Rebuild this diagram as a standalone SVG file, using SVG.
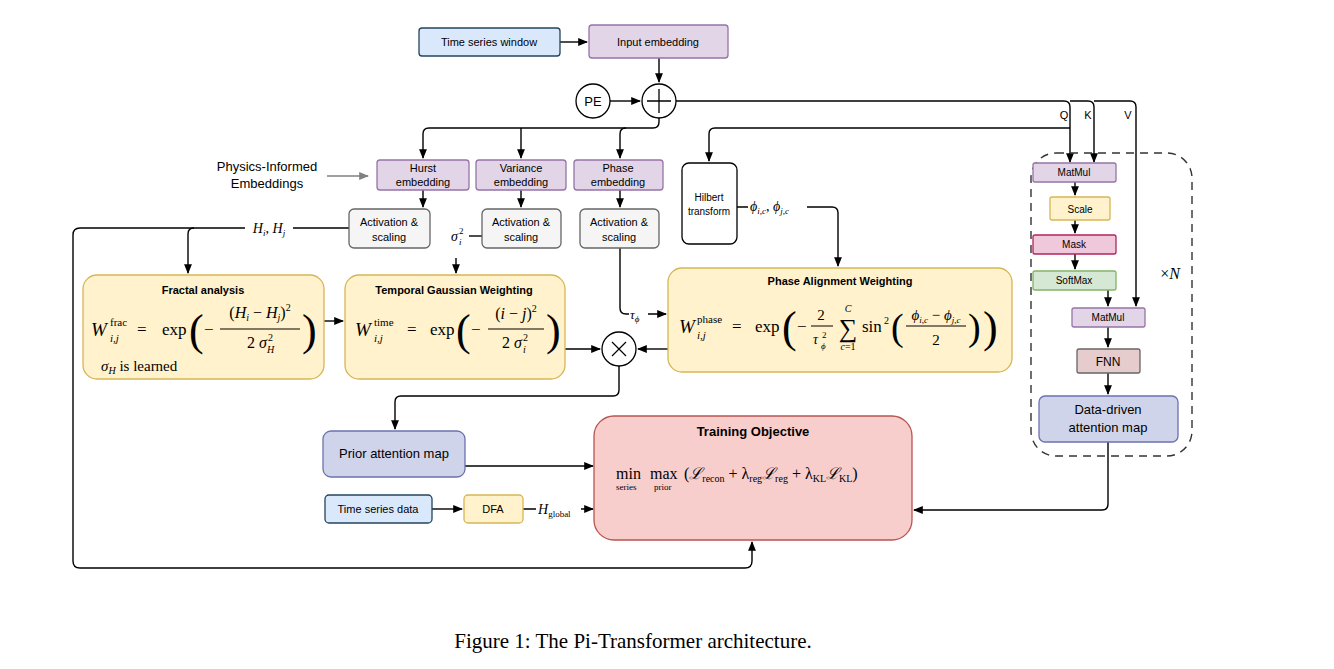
<svg xmlns="http://www.w3.org/2000/svg" width="1334" height="669" viewBox="0 0 1334 669">
<style>
.s{font-family:"Liberation Sans",Arial,sans-serif;fill:#000}
.m{font-family:"Liberation Serif","Times New Roman",serif;fill:#000}
.i{font-style:italic}
.c{stroke:#000;stroke-width:1.4;fill:none}
.b{font-weight:bold}
.p{fill:#e1d5e7;stroke:#9673a6;stroke-width:1.3}
.g{fill:#f5f5f5;stroke:#666;stroke-width:1.3}
.y{fill:#fff2cc;stroke:#d6b656;stroke-width:1.3}
.bl{fill:#dae8fc;stroke:#23445d;stroke-width:1.3}
.pv{fill:#d0d4ea;stroke:#6c72b0;stroke-width:1.3}
.pr{font-family:"Liberation Serif","Times New Roman",serif;font-size:44px;font-weight:100}
</style>
<defs><marker id="a" viewBox="0 0 10 10" refX="9" refY="5" markerWidth="7" markerHeight="7" orient="auto"><path d="M0,1 L10,5 L0,9 z" fill="#000"/></marker>
<marker id="ag" viewBox="0 0 10 10" refX="9" refY="5" markerWidth="7" markerHeight="7" orient="auto"><path d="M0,1 L10,5 L0,9 z" fill="#808080"/></marker></defs>
<rect width="1334" height="669" fill="#fff"/>

<g id="connectors">
<path class="c" d="M560,42 H587" marker-end="url(#a)"/>
<path class="c" d="M659,58 V82" marker-end="url(#a)"/>
<path class="c" d="M610,101 H640" marker-end="url(#a)"/>
<path class="c" d="M676,101 H1064 Q1070,101 1070,107 V162" marker-end="url(#a)"/>
<path class="c" d="M1070,101 H1088 Q1094,101 1094,107 V162" marker-end="url(#a)"/>
<path class="c" d="M1094,101 H1130 Q1136,101 1136,107 V306" marker-end="url(#a)"/>
<path class="c" d="M659,118 V122 Q659,128 653,128 H429 Q423,128 423,134 V158" marker-end="url(#a)"/>
<path class="c" d="M521,128 V158" marker-end="url(#a)"/>
<path class="c" d="M626,128 Q620,128 620,134 V158" marker-end="url(#a)"/>
<path class="c" d="M1070,128 H715 Q709,128 709,134 V161" marker-end="url(#a)"/>
<path d="M327,176 H368" stroke="#808080" stroke-width="1.4" fill="none" marker-end="url(#ag)"/>
<path class="c" d="M423,190 V207" marker-end="url(#a)"/>
<path class="c" d="M521,190 V207" marker-end="url(#a)"/>
<path class="c" d="M620,190 V207" marker-end="url(#a)"/>
<path class="c" d="M349,228 H293 M245,228 H80 Q73,228 73,235 V561 Q73,568 80,568 H745 Q752,568 752,561 V542" marker-end="url(#a)"/>
<path class="c" d="M194,228 Q188,228 188,234 V273" marker-end="url(#a)"/>
<path class="c" d="M469,236 H482"/>
<path class="c" d="M456,258 V273" marker-end="url(#a)"/>
<path class="c" d="M620,248 V308 Q620,314 626,314 H629 M648,314 H666" marker-end="url(#a)"/>
<path class="c" d="M737,207 H748 M807,207 H832 Q838,207 838,213 V266" marker-end="url(#a)"/>
<path class="c" d="M324,321 H343" marker-end="url(#a)"/>
<path class="c" d="M565,349 H600" marker-end="url(#a)"/>
<path class="c" d="M668,349 H638" marker-end="url(#a)"/>
<path class="c" d="M619,366 V390 Q619,396 613,396 H401 Q395,396 395,402 V429" marker-end="url(#a)"/>
<path class="c" d="M465,466 H593" marker-end="url(#a)"/>
<path class="c" d="M432,509 H462" marker-end="url(#a)"/>
<path class="c" d="M523,509 H536 M581,509 H593" marker-end="url(#a)"/>
<path class="c" d="M1108,442 V504 Q1108,510 1102,510 H914" marker-end="url(#a)"/>
<path class="c" d="M1075,182 V195" marker-end="url(#a)"/>
<path class="c" d="M1075,220 V233" marker-end="url(#a)"/>
<path class="c" d="M1075,254 V269" marker-end="url(#a)"/>
<path class="c" d="M1108,290 V306" marker-end="url(#a)"/>
<path class="c" d="M1108,327 V347" marker-end="url(#a)"/>
<path class="c" d="M1108,373 V394" marker-end="url(#a)"/>
</g>

<rect x="1031" y="153" width="161" height="303" rx="25" fill="none" stroke="#333" stroke-width="1.4" stroke-dasharray="8,6"/>
<text x="1170" y="279" class="m" font-size="16" text-anchor="middle">×<tspan class="i">N</tspan></text>
<text x="1064" y="119" class="s" font-size="11" text-anchor="middle">Q</text>
<text x="1088" y="119" class="s" font-size="11" text-anchor="middle">K</text>
<text x="1128" y="119" class="s" font-size="11" text-anchor="middle">V</text>

<g id="tsw"><rect x="419" y="28" width="141" height="28" rx="3" class="bl"/><text x="489" y="46" class="s" font-size="11" text-anchor="middle">Time series window</text></g>
<g id="ie"><rect x="589" y="25" width="139" height="33" rx="3" class="p"/><text x="658" y="46" class="s" font-size="11" text-anchor="middle">Input embedding</text></g>
<g id="pe"><circle cx="593" cy="101" r="17" fill="#fff" stroke="#000" stroke-width="1.3"/><text x="593" y="106" class="s" font-size="13" text-anchor="middle">PE</text></g>
<g id="plus"><circle cx="659" cy="101" r="17" fill="#fff" stroke="#000" stroke-width="1.3"/><path d="M647,101 H671 M659,89 V113" stroke="#000" stroke-width="1.3"/></g>

<text x="267" y="171" class="s" font-size="13" text-anchor="middle">Physics-Informed</text>
<text x="267" y="188" class="s" font-size="13" text-anchor="middle">Embeddings</text>

<g id="hurst"><rect x="377" y="160" width="92" height="30" rx="3" class="p"/><text x="423" y="172" class="s" font-size="11" text-anchor="middle">Hurst</text><text x="423" y="186" class="s" font-size="11" text-anchor="middle">embedding</text></g>
<g id="var"><rect x="476" y="160" width="90" height="30" rx="3" class="p"/><text x="521" y="172" class="s" font-size="11" text-anchor="middle">Variance</text><text x="521" y="186" class="s" font-size="11" text-anchor="middle">embedding</text></g>
<g id="phase"><rect x="574" y="160" width="89" height="30" rx="3" class="p"/><text x="618" y="172" class="s" font-size="11" text-anchor="middle">Phase</text><text x="618" y="186" class="s" font-size="11" text-anchor="middle">embedding</text></g>

<g id="act1"><rect x="349" y="209" width="81" height="39" rx="5" class="g"/><text x="389" y="226" class="s" font-size="11" text-anchor="middle">Activation &amp;</text><text x="389" y="241" class="s" font-size="11" text-anchor="middle">scaling</text></g>
<g id="act2"><rect x="482" y="209" width="79" height="39" rx="5" class="g"/><text x="521" y="226" class="s" font-size="11" text-anchor="middle">Activation &amp;</text><text x="521" y="241" class="s" font-size="11" text-anchor="middle">scaling</text></g>
<g id="act3"><rect x="580" y="209" width="79" height="39" rx="5" class="g"/><text x="619" y="226" class="s" font-size="11" text-anchor="middle">Activation &amp;</text><text x="619" y="241" class="s" font-size="11" text-anchor="middle">scaling</text></g>

<text x="269" y="233" class="m i" font-size="14" text-anchor="middle">H<tspan font-size="9" dy="3">i</tspan><tspan dy="-3" font-style="normal">, </tspan>H<tspan font-size="9" dy="3">j</tspan></text>
<text x="451" y="241" class="m i" font-size="14">σ</text><text x="459" y="234" class="m" font-size="9">2</text><text x="459" y="245" class="m i" font-size="9">i</text>
<text x="630" y="319" class="m i" font-size="13">τ<tspan font-size="9" dy="3">ϕ</tspan></text>
<text x="750" y="211" class="m i" font-size="14">ϕ<tspan font-size="9" dy="3">i,c</tspan><tspan dy="-3" font-style="normal">, </tspan>ϕ<tspan font-size="9" dy="3">j,c</tspan></text>

<g id="hilbert"><rect x="682" y="163" width="55" height="81" rx="7" fill="#fff" stroke="#000" stroke-width="1.3"/><text x="709" y="201" class="s" font-size="10" text-anchor="middle">Hilbert</text><text x="709" y="215" class="s" font-size="10" text-anchor="middle">transform</text></g>

<g id="fractal"><rect x="83" y="275" width="241" height="104" rx="14" class="y"/>
<text x="203" y="294" class="s b" font-size="11" text-anchor="middle">Fractal analysis</text>
<text x="91" y="336" class="m i" font-size="19">W</text>
<text x="110" y="326" class="m" font-size="11">frac</text>
<text x="110" y="342" class="m i" font-size="11">i,j</text>
<text x="137" y="335" class="m" font-size="17">=</text>
<text x="162" y="335" class="m" font-size="17">exp</text>
<text x="189" y="345" class="pr">(</text>
<text x="204" y="335" class="m" font-size="17">−</text>
<text x="260" y="318" class="m" font-size="16" text-anchor="middle">(<tspan class="i">H</tspan><tspan font-size="10" dy="3" class="i">i</tspan><tspan dy="-3"> − </tspan><tspan class="i">H</tspan><tspan font-size="10" dy="3" class="i">j</tspan><tspan dy="-3">)</tspan><tspan font-size="10" dy="-7">2</tspan></text>
<path d="M220,329 H300" stroke="#000" stroke-width="1"/>
<text x="247" y="348" class="m" font-size="16">2 <tspan class="i">σ</tspan></text><text x="268" y="341" class="m" font-size="10">2</text><text x="267" y="353" class="m i" font-size="10">H</text>
<text x="302" y="345" class="pr">)</text>
<text x="101" y="371" class="m" font-size="15"><tspan class="i">σ</tspan><tspan font-size="10" dy="3" class="i">H</tspan><tspan dy="-3"> is learned</tspan></text>
</g>

<g id="temporal"><rect x="345" y="275" width="220" height="104" rx="14" class="y"/>
<text x="454" y="294" class="s b" font-size="11" text-anchor="middle">Temporal Gaussian Weighting</text>
<text x="355" y="336" class="m i" font-size="19">W</text>
<text x="374" y="326" class="m" font-size="11">time</text>
<text x="374" y="342" class="m i" font-size="11">i,j</text>
<text x="407" y="335" class="m" font-size="17">=</text>
<text x="430" y="335" class="m" font-size="17">exp</text>
<text x="456" y="345" class="pr">(</text>
<text x="471" y="335" class="m" font-size="17">−</text>
<text x="516" y="319" class="m" font-size="16" text-anchor="middle">(<tspan class="i">i</tspan> − <tspan class="i">j</tspan>)<tspan font-size="10" dy="-7">2</tspan></text>
<path d="M488,329 H544" stroke="#000" stroke-width="1"/>
<text x="502" y="348" class="m" font-size="16">2 <tspan class="i">σ</tspan></text><text x="523" y="341" class="m" font-size="10">2</text><text x="523" y="353" class="m i" font-size="10">i</text>
<text x="546" y="345" class="pr">)</text>
</g>

<g id="phasealign"><rect x="668" y="268" width="344" height="104" rx="14" class="y"/>
<text x="840" y="285" class="s b" font-size="11" text-anchor="middle">Phase Alignment Weighting</text>
<text x="679" y="333" class="m i" font-size="19">W</text>
<text x="697" y="323" class="m" font-size="11">phase</text>
<text x="697" y="339" class="m i" font-size="11">i,j</text>
<text x="732" y="332" class="m" font-size="17">=</text>
<text x="755" y="332" class="m" font-size="17">exp</text>
<text x="782" y="342" class="pr">(</text>
<text x="797" y="332" class="m" font-size="17">−</text>
<text x="821" y="320" class="m" font-size="15" text-anchor="middle">2</text>
<path d="M811,326 H833" stroke="#000" stroke-width="1"/>
<text x="813" y="344" class="m i" font-size="14">τ</text><text x="822" y="338" class="m" font-size="9">2</text><text x="821" y="349" class="m i" font-size="9">ϕ</text>
<text x="848" y="337" class="m" font-size="26" text-anchor="middle">∑</text>
<text x="848" y="312" class="m i" font-size="10" text-anchor="middle">C</text>
<text x="848" y="350" class="m" font-size="10" text-anchor="middle"><tspan class="i">c</tspan>=1</text>
<text x="862" y="332" class="m" font-size="17">sin</text><text x="884" y="324" class="m" font-size="10">2</text>
<text x="891" y="340" class="pr" font-size="38" style="font-size:38px">(</text>
<text x="936" y="320" class="m i" font-size="15" text-anchor="middle">ϕ<tspan font-size="9" dy="3">i,c</tspan><tspan dy="-3" font-style="normal"> − </tspan>ϕ<tspan font-size="9" dy="3">j,c</tspan></text>
<path d="M906,326 H966" stroke="#000" stroke-width="1"/>
<text x="936" y="345" class="m" font-size="15" text-anchor="middle">2</text>
<text x="968" y="340" class="pr" style="font-size:38px">)</text>
<text x="983" y="342" class="pr">)</text>
</g>

<g id="times"><circle cx="619" cy="349" r="17" fill="#fff" stroke="#000" stroke-width="1.3"/><path d="M612,342 L626,356 M626,342 L612,356" stroke="#000" stroke-width="1.2"/></g>

<g id="prior"><rect x="323" y="431" width="142" height="46" rx="8" class="pv"/><text x="394" y="458" class="s" font-size="13" text-anchor="middle">Prior attention map</text></g>
<g id="tsd"><rect x="325" y="495" width="107" height="28" rx="4" class="bl"/><text x="378" y="513" class="s" font-size="11" text-anchor="middle">Time series data</text></g>
<g id="dfa"><rect x="464" y="495" width="59" height="28" rx="4" class="y"/><text x="493" y="513" class="s" font-size="11" text-anchor="middle">DFA</text></g>
<text x="538" y="514" class="m i" font-size="14">H<tspan font-size="9" dy="3" font-style="normal">global</tspan></text>

<g id="training"><rect x="594" y="416" width="318" height="124" rx="20" fill="#f8cecc" stroke="#b85450" stroke-width="1.3"/>
<text x="753" y="436" class="s b" font-size="13" text-anchor="middle">Training Objective</text>
<text x="616" y="479" class="m" font-size="16">min</text><text x="616" y="490" class="m" font-size="9">series</text>
<text x="650" y="479" class="m" font-size="16">max</text><text x="654" y="490" class="m" font-size="9">prior</text>
<text x="684" y="479" class="m" font-size="16">(<tspan class="i">ℒ</tspan><tspan font-size="10" dy="3">recon</tspan><tspan dy="-3"> + λ</tspan><tspan font-size="10" dy="3">reg</tspan><tspan dy="-3" class="i">ℒ</tspan><tspan font-size="10" dy="3">reg</tspan><tspan dy="-3"> + λ</tspan><tspan font-size="10" dy="3">KL</tspan><tspan dy="-3" class="i">ℒ</tspan><tspan font-size="10" dy="3">KL</tspan><tspan dy="-3">)</tspan></text>
</g>

<g id="matmul1"><rect x="1033" y="163" width="83" height="19" rx="2" class="p"/><text x="1074" y="176" class="s" font-size="10" text-anchor="middle">MatMul</text></g>
<g id="scale"><rect x="1050" y="197" width="60" height="23" rx="2" class="y"/><text x="1080" y="213" class="s" font-size="10" text-anchor="middle">Scale</text></g>
<g id="mask"><rect x="1033" y="235" width="83" height="19" rx="2" fill="#f0c8dc" stroke="#b0245e" stroke-width="1.3"/><text x="1074" y="248" class="s" font-size="10" text-anchor="middle">Mask</text></g>
<g id="softmax"><rect x="1033" y="271" width="83" height="19" rx="2" fill="#d5e8d4" stroke="#82b366" stroke-width="1.3"/><text x="1074" y="284" class="s" font-size="10" text-anchor="middle">SoftMax</text></g>
<g id="matmul2"><rect x="1072" y="308" width="73" height="19" rx="2" class="p"/><text x="1108" y="321" class="s" font-size="10" text-anchor="middle">MatMul</text></g>
<g id="fnn"><rect x="1077" y="349" width="63" height="24" rx="2" fill="#e6cccc" stroke="#666" stroke-width="1.3"/><text x="1108" y="366" class="s" font-size="12" text-anchor="middle">FNN</text></g>
<g id="datadriven"><rect x="1039" y="396" width="139" height="46" rx="6" class="pv"/><text x="1108" y="414" class="s" font-size="13" text-anchor="middle">Data-driven</text><text x="1108" y="432" class="s" font-size="13" text-anchor="middle">attention map</text></g>

<text x="633" y="648" class="m" font-size="21" text-anchor="middle">Figure 1:  The Pi-Transformer architecture.</text>
</svg>
